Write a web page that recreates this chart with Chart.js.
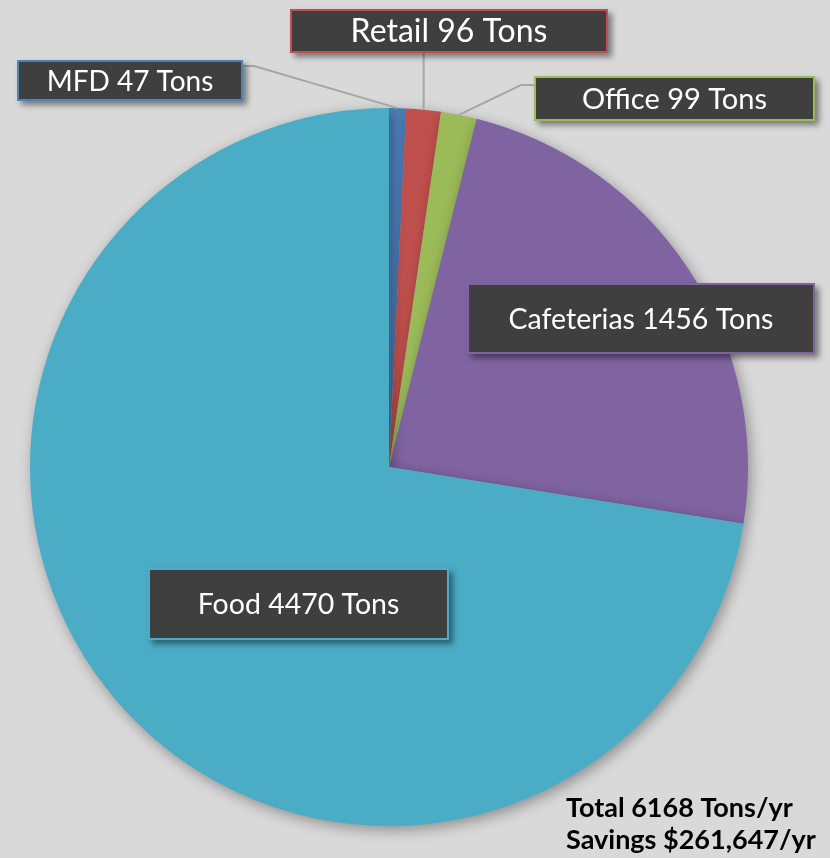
<!DOCTYPE html>
<html>
<head>
<meta charset="utf-8">
<script src="https://cdn.jsdelivr.net/npm/chart.js@4.4.1/dist/chart.umd.min.js"></script>
<style>
  html, body { margin: 0; padding: 0; background: #d9d9d9; }
  #wrap { width: 830px; height: 858px; position: relative; }
</style>
</head>
<body>
<div id="wrap"><canvas id="pieChart" width="830" height="858"></canvas></div>
<script>
(() => {
  'use strict'

  // Data
  const categories = ['MFD', 'Retail', 'Office', 'Cafeterias', 'Food'];
  const tons = [47, 96, 99, 1456, 4470];
  const sliceColors = ['#4f81bd', '#c0504d', '#9bbb59', '#8064a2', '#4bacc6'];
  const totalLine = 'Total 6168 Tons/yr';
  const savingsLine = 'Savings $261,647/yr';

  // label boxes: x, y, w, h, font size, where the leader leaves the box, and an elbow
  const labelBoxes = [
    { x: 17, y: 60, w: 226, h: 41, size: 28, from: [243, 66], elbow: [254, 66] },
    { x: 290, y: 9, w: 318, h: 44, size: 32, from: null, elbow: null },
    { x: 534, y: 76, w: 281, h: 45, size: 29, from: [534, 85], elbow: [521, 85] },
    { x: 467, y: 283, w: 348, h: 71, size: 28.5, from: null, elbow: null },
    { x: 148, y: 568, w: 301, h: 72, size: 28.5, from: null, elbow: null }
  ];

  const FONT = 'Lato, "Open Sans", sans-serif';

  const pieShadow = {
    id: 'pieShadow',
    beforeDatasetsDraw(chart) {
      const c = chart.ctx;
      c.save();
      c.shadowColor = 'rgba(0,0,0,0.35)';
      c.shadowBlur = 14;
      c.shadowOffsetX = 3;
      c.shadowOffsetY = 4;
    },
    afterDatasetsDraw(chart) {
      chart.ctx.restore();
    }
  };

  const calloutLabels = {
    id: 'calloutLabels',
    afterDraw(chart) {
      const c = chart.ctx;
      const arcs = chart.getDatasetMeta(0).data;
      c.save();

      // leader lines
      c.strokeStyle = '#a6a6a6';
      c.lineWidth = 2;
      arcs.forEach((arc, i) => {
        const b = labelBoxes[i];
        const mid = (arc.startAngle + arc.endAngle) / 2;
        const px = arc.x + Math.cos(mid) * arc.outerRadius;
        const py = arc.y + Math.sin(mid) * arc.outerRadius;
        if (i === 1) {
          c.beginPath();
          c.moveTo(px, b.y + b.h);
          c.lineTo(px, py);
          c.stroke();
        } else if (b.from) {
          c.beginPath();
          c.moveTo(b.from[0], b.from[1]);
          c.lineTo(b.elbow[0], b.elbow[1]);
          c.lineTo(px, py);
          c.stroke();
        }
      });

      // boxes
      arcs.forEach((arc, i) => {
        const b = labelBoxes[i];
        c.save();
        c.shadowColor = 'rgba(0,0,0,0.45)';
        c.shadowBlur = 6;
        c.shadowOffsetX = 4;
        c.shadowOffsetY = 4;
        c.fillStyle = '#3f3f3f';
        c.fillRect(b.x, b.y, b.w, b.h);
        c.restore();
        c.strokeStyle = sliceColors[i];
        c.lineWidth = 2;
        c.strokeRect(b.x + 1, b.y + 1, b.w - 2, b.h - 2);

        c.fillStyle = '#ffffff';
        c.font = b.size + 'px ' + FONT;
        c.textAlign = 'center';
        c.textBaseline = 'middle';
        c.fillText(categories[i] + ' ' + tons[i] + ' Tons', b.x + b.w / 2, b.y + b.h / 2 + 1);
      });

      // totals
      c.fillStyle = '#000000';
      c.font = 'bold 27px ' + FONT;
      c.textAlign = 'left';
      c.textBaseline = 'alphabetic';
      c.fillText(totalLine, 566, 817);
      c.fillText(savingsLine, 566, 849);
      c.restore();
    }
  };

  const ctx = document.getElementById('pieChart').getContext('2d');

  const pieChart = new Chart(ctx, {
    type: 'pie',
    data: {
      labels: categories,
      datasets: [{
        data: tons,
        backgroundColor: sliceColors,
        borderWidth: 0
      }]
    },
    options: {
      responsive: false,
      animation: false,
      layout: { padding: { left: 30, right: 82, top: 108, bottom: 32 } },
      plugins: {
        legend: { display: false },
        tooltip: { enabled: false }
      }
    },
    plugins: [pieShadow, calloutLabels]
  });
})()
</script>
</body>
</html>
